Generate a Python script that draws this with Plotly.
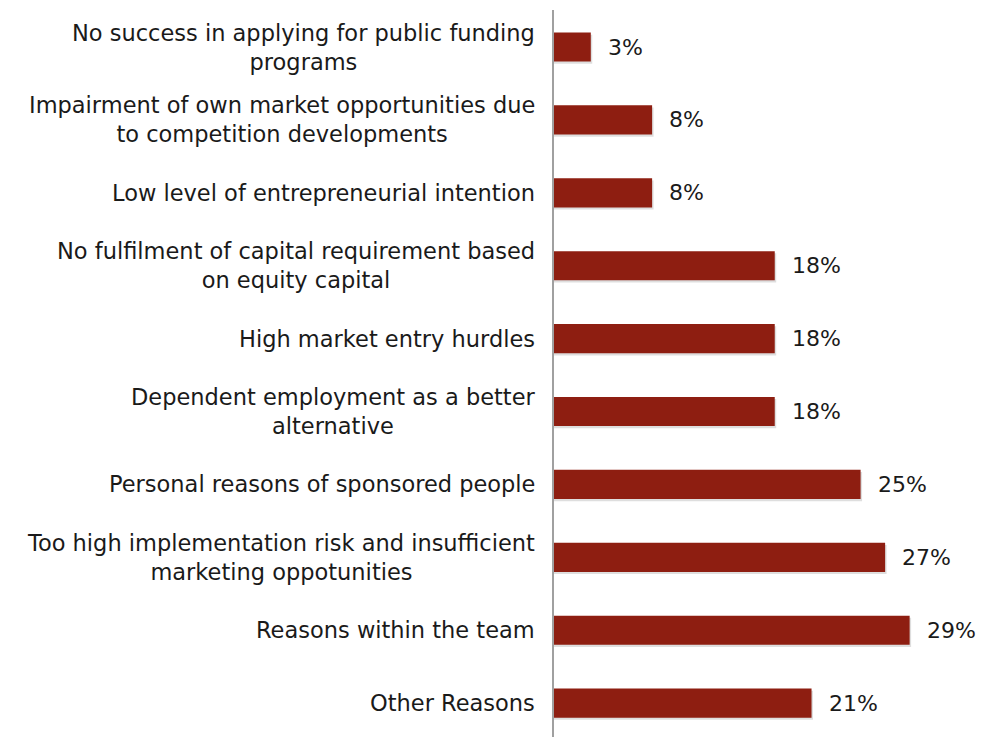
import plotly.graph_objects as go

# Reasons for not founding, share of responses (%)
reasons = [
    "No success in applying for public funding<br>programs",
    "Impairment of own market opportunities due<br>to competition developments",
    "Low level of entrepreneurial intention",
    "No fulfilment of capital requirement based<br>on equity capital",
    "High market entry hurdles",
    "Dependent employment as a better<br>alternative",
    "Personal reasons of sponsored people",
    "Too high implementation risk and insufficient<br>marketing oppotunities",
    "Reasons within the team",
    "Other Reasons",
]
shares = [3, 8, 8, 18, 18, 18, 25, 27, 29, 21]
share_labels = ["3%", "8%", "8%", "18%", "18%", "18%", "25%", "27%", "29%", "21%"]

BAR_COLOR = "#8E1E11"
TEXT_COLOR = "#1A1A1A"
FONT = "DejaVu Sans"

fig = go.Figure()

# soft drop shadow under each bar
fig.add_trace(go.Bar(
    x=[v + 0.12 for v in shares], y=reasons, orientation="h",
    width=0.4, offset=-0.17,
    marker=dict(color="rgba(0,0,0,0.13)", line=dict(width=0)),
    hoverinfo="skip", showlegend=False,
))
fig.add_trace(go.Bar(
    x=shares, y=reasons, orientation="h",
    width=0.4, offset=-0.2,
    marker=dict(color=BAR_COLOR, line=dict(width=0)),
    showlegend=False,
))

annotations = []
for name, v, lab in zip(reasons, shares, share_labels):
    annotations.append(dict(
        x=v, y=name, xref="x", yref="y", text=lab, showarrow=False,
        xanchor="left", yanchor="middle", xshift=15,
        font=dict(family=FONT, size=22, color=TEXT_COLOR),
    ))
    annotations.append(dict(
        x=0, y=name, xref="x", yref="y", text=name, showarrow=False,
        xanchor="right", yanchor="middle", align="center", xshift=-17,
        font=dict(family=FONT, size=22.5, color=TEXT_COLOR),
    ))

fig.update_layout(
    width=982, height=737,
    margin=dict(l=554, r=0, t=10, b=0),
    paper_bgcolor="white", plot_bgcolor="white",
    barmode="overlay",
    annotations=annotations,
    xaxis=dict(range=[0, 34.9], visible=False, fixedrange=True),
    yaxis=dict(
        type="category", categoryorder="array", categoryarray=reasons,
        range=[9.465, -0.508], showticklabels=False, ticks="",
        showgrid=False, zeroline=False,
        showline=True, linecolor="#A0A0A0", linewidth=2,
    ),
)

fig.write_html("out.html")
